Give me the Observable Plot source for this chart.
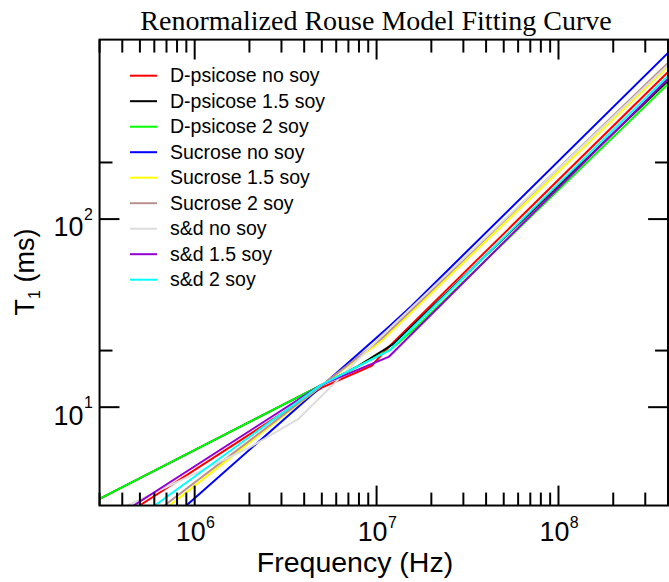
<!DOCTYPE html>
<html><head><meta charset="utf-8">
<script src="https://cdn.jsdelivr.net/npm/d3@7"></script>
<script src="https://cdn.jsdelivr.net/npm/@observablehq/plot@0.6"></script>
<style>
html,body{margin:0;padding:0;background:#fff;overflow:hidden;width:669px;height:582px}
#wrap{position:relative;width:669px;height:582px;overflow:hidden}
#chart{position:absolute;left:0;top:0}
#deco{position:absolute;left:0;top:0;pointer-events:none}
</style></head><body>
<div id="wrap"><div id="chart"></div><svg id="deco" width="669" height="582"></svg></div>
<script>
// ---- data (frequency in Hz, T1 in ms) ----
const seriesNames = ["D-psicose no soy","D-psicose 1.5 soy","D-psicose 2 soy","Sucrose no soy","Sucrose 1.5 soy","Sucrose 2 soy","s&d no soy","s&d 1.5 soy","s&d 2 soy"];
const seriesColors = ["#ff0000","#000000","#00ff00","#0000ff","#ffff00","#bc8f8f","#dcdcdc","#9400d3","#00ffff"];

const dpNoSoyF   = [4.98e5, 5.0e6, 9.4e6, 1.165e7, 4.0e8];
const dpNoSoyT   = [3.0, 12.7, 16.6, 20.9, 605];
const dp15SoyF   = [3.0e5, 4.82e6, 7.96e6, 1.24e7, 4.0e8];
const dp15SoyT   = [3.25, 12.9, 16.6, 21.7, 543];
const dp2SoyF    = [3.0e5, 4.82e6, 1.19e7, 1.66e7, 4.0e8];
const dp2SoyT    = [3.25, 12.9, 20.2, 26.7, 522];
const sucNoSoyF  = [9.0e5, 1.165e7, 1.556e7, 4.0e8];
const sucNoSoyT  = [3.0, 26.7, 34.5, 765];
const suc15SoyF  = [7.28e5, 5.13e6, 1.064e7, 4.0e8];
const suc15SoyT  = [3.0, 13.3, 22.5, 644];
const suc2SoyF   = [6.82e5, 5.13e6, 1.064e7, 4.0e8];
const suc2SoyT   = [3.0, 13.3, 23.1, 676];
const sdNoSoyF   = [4.29e5, 2.0e6, 3.74e6, 5.82e6, 1.064e7, 4.0e8];
const sdNoSoyT   = [3.0, 6.1, 8.7, 13.3, 23.9, 659];
const sd15SoyF   = [4.62e5, 4.94e6, 1.165e7, 4.0e8];
const sd15SoyT   = [3.0, 13.1, 18.5, 557];
const sd2SoyF    = [6.03e5, 4.94e6, 1.165e7, 4.0e8];
const sd2SoyT    = [3.0, 13.1, 19.9, 577];

const seriesF = [dpNoSoyF, dp15SoyF, dp2SoyF, sucNoSoyF, suc15SoyF, suc2SoyF, sdNoSoyF, sd15SoyF, sd2SoyF];
const seriesT = [dpNoSoyT, dp15SoyT, dp2SoyT, sucNoSoyT, suc15SoyT, suc2SoyT, sdNoSoyT, sd15SoyT, sd2SoyT];

const xMajorTicks = [1e6, 1e7, 1e8];
const xMinorTicks = [3e5,4e5,5e5,6e5,7e5,8e5,9e5,2e6,3e6,4e6,5e6,6e6,7e6,8e6,9e6,2e7,3e7,4e7,5e7,6e7,7e7,8e7,9e7,2e8,3e8];
const xTickExp = ["6","7","8"];
const yMajorTicks = [10, 100];
const yMinorTicks = [20, 200];
const yTickExp = ["1","2"];

const titleText = "Renormalized Rouse Model Fitting Curve";
const xTitle = "Frequency (Hz)";

// ---- build table ----
const rows = [];
seriesF.forEach((fs, i) => fs.forEach((f, j) => rows.push({s: seriesNames[i], f, t: seriesT[i][j]})));

const tickShape = {draw(ctx, l) { ctx.moveTo(0, 0); ctx.lineTo(0, -l); }};
const tk = (data, anchor, len, rot) => Plot.vector(data, {
  [anchor === "top" || anchor === "bottom" ? "x" : "y"]: d => d,
  frameAnchor: anchor, length: len, rotate: rot, anchor: "start", shape: tickShape,
  stroke: "black", strokeWidth: 2, strokeLinecap: "butt"
});

const W = 672, H = 582;
const chart = Plot.plot({
  width: W, height: H,
  marginLeft: 99.5, marginRight: W - 670.5, marginTop: 39.3, marginBottom: H - 507.3,
  style: {fontFamily: "'Liberation Sans', Arial, Helvetica, sans-serif", background: "white", color: "black"},
  x: {type: "log", domain: [3e5, 4e8], axis: null},
  y: {type: "log", domain: [3, 900], axis: null},
  color: {domain: seriesNames, range: seriesColors},
  marks: [
    Plot.line(rows, {x: "f", y: "t", z: "s", stroke: "s", strokeWidth: 2, clip: true}),
    tk(xMinorTicks, "bottom", 13, 0),
    tk(xMajorTicks, "bottom", 20, 0),
    tk(xMinorTicks, "top", 13, 180),
    tk(xMajorTicks, "top", 20, 180),
    tk(yMinorTicks, "left", 13, 90),
    tk(yMajorTicks, "left", 20, 90),
    tk(yMinorTicks, "right", 13, -90),
    tk(yMajorTicks, "right", 20, -90),
    Plot.frame({stroke: "black", strokeWidth: 2}),
    Plot.text(xMajorTicks, {x: d => d, frameAnchor: "bottom", text: () => "10", dy: 36, dx: -4, fontSize: 27, textAnchor: "middle", lineAnchor: "bottom", fill: "black"}),
    Plot.text(xMajorTicks, {x: d => d, frameAnchor: "bottom", text: (d, i) => xTickExp[i], dy: 23, dx: 11.4, fontSize: 16, textAnchor: "start", lineAnchor: "bottom", fill: "black"}),
    Plot.text(yMajorTicks, {y: d => d, frameAnchor: "left", text: () => "10", dy: 17.4, dx: -16.2, fontSize: 27, textAnchor: "end", lineAnchor: "bottom", fill: "black"}),
    Plot.text(yMajorTicks, {y: d => d, frameAnchor: "left", text: (d, i) => yTickExp[i], dy: 0.5, dx: -15.7, fontSize: 16, textAnchor: "start", lineAnchor: "bottom", fill: "black"})
  ]
});
document.getElementById("chart").appendChild(chart);

// ---- decorations: title, axis titles, legend ----
const deco = d3.select("#deco");
const sans = "'Liberation Sans', Arial, Helvetica, sans-serif";
deco.append("text").attr("x", 376).attr("y", 30).attr("text-anchor", "middle")
  .attr("font-family", "'Liberation Serif', 'Times New Roman', serif").attr("font-size", 28).text(titleText);
deco.append("text").attr("x", 355).attr("y", 572).attr("text-anchor", "middle")
  .attr("font-family", sans).attr("font-size", 28.5).text(xTitle);
const yt = deco.append("text").attr("transform", "translate(34,272) rotate(-90)").attr("text-anchor", "middle")
  .attr("font-family", sans).attr("font-size", 27);
yt.append("tspan").text("T");
yt.append("tspan").attr("font-size", 16).attr("dy", 6).text("1");
yt.append("tspan").attr("dy", -6).text(" (ms)");

const leg = deco.append("g");
seriesNames.forEach((n, i) => {
  const cy = 75.7 + i * 25.5;
  leg.append("line").attr("x1", 130).attr("x2", 157).attr("y1", cy).attr("y2", cy)
    .attr("stroke", seriesColors[i]).attr("stroke-width", 2);
  leg.append("text").attr("x", 170).attr("y", cy + 6.5).attr("font-family", sans)
    .attr("font-size", 19.5).text(n);
});
</script>
</body></html>
